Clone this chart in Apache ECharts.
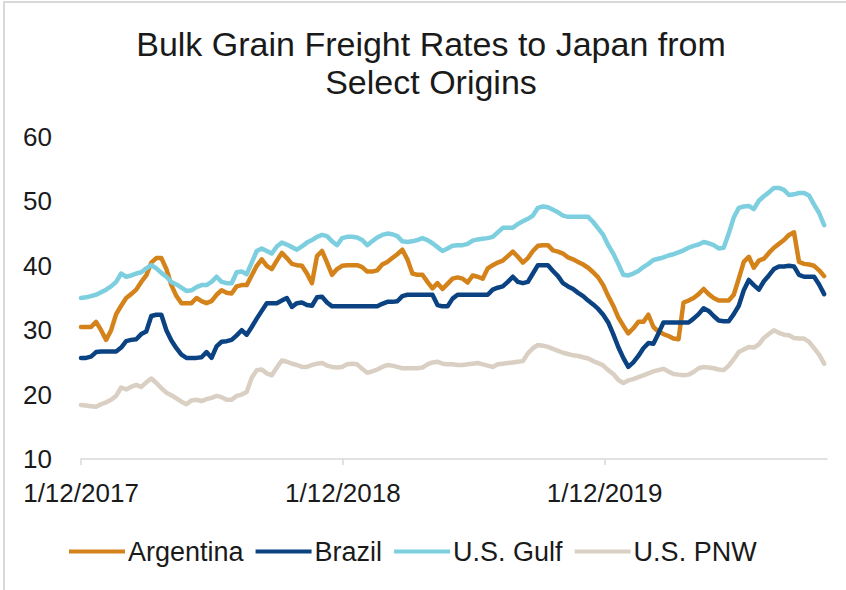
<!DOCTYPE html>
<html><head><meta charset="utf-8">
<script src="https://cdn.jsdelivr.net/npm/echarts@6/dist/echarts.min.js"></script>
<style>html,body{margin:0;padding:0;background:#fff}#c{width:846px;height:590px}</style>
</head><body><div id="c"></div>
<script>
// Weekly observations starting 1/12/2017 (x = days since 1/12/2017)
const startDate = '1/12/2017';
const tickDays = [0, 365, 730];
const tickLabels = ['1/12/2017', '1/12/2018', '1/12/2019'];
const seriesNames = ['Argentina', 'Brazil', 'U.S. Gulf', 'U.S. PNW'];

const argentina = [
30.5,30.5,30.5,31.3,30.0,28.5,30.0,32.5,33.8,35.0,
35.6,36.3,37.5,38.5,40.5,41.2,41.2,39.5,37.0,35.3,
34.2,34.2,34.2,35.0,34.5,34.2,34.5,35.5,36.2,35.8,
35.7,36.8,37.0,37.0,38.5,40.0,41.0,40.0,39.5,40.8,
42.0,41.2,40.3,40.1,40.0,38.8,37.3,41.5,42.3,40.5,
38.6,39.5,40.0,40.1,40.1,40.1,39.8,39.1,39.1,39.3,
40.2,40.6,41.2,41.8,42.5,41.0,38.8,38.6,38.6,37.5,
36.5,37.3,36.4,37.2,38.0,38.2,38.0,37.4,38.5,38.3,
38.0,39.6,40.1,40.5,40.8,41.5,42.2,41.4,40.5,41.2,
42.3,43.1,43.2,43.2,42.4,42.2,41.9,41.3,41.0,40.6,
40.2,39.7,39.0,38.2,37.0,35.3,33.8,32.0,30.7,29.5,
30.3,31.3,31.3,32.4,30.5,29.8,29.4,29.1,28.7,28.6,
34.3,34.6,35.0,35.6,36.4,35.6,35.0,34.6,34.6,34.6,
35.5,38.0,40.6,41.4,39.7,40.8,41.1,42.0,42.8,43.4,
44.0,44.8,45.2,40.6,40.3,40.2,40.0,39.3,38.4];

const brazil = [
25.7,25.7,25.9,26.6,26.7,26.7,26.7,26.7,27.3,28.3,
28.5,28.6,29.4,29.8,32.2,32.4,32.4,30.0,28.4,27.2,
26.2,25.7,25.7,25.7,25.8,26.6,25.7,27.5,28.2,28.3,
28.5,29.2,30.0,29.3,30.5,31.8,33.0,34.2,34.2,34.2,
34.6,35.0,33.6,34.2,34.3,33.9,33.8,35.1,35.2,34.3,
33.7,33.7,33.7,33.7,33.7,33.7,33.7,33.7,33.7,33.7,
34.1,34.4,34.4,34.5,35.3,35.5,35.5,35.5,35.5,35.5,
35.5,33.9,33.7,33.7,34.9,35.5,35.5,35.5,35.5,35.5,
35.5,35.5,36.3,36.6,36.8,37.5,38.3,37.5,37.3,37.5,
38.8,40.1,40.1,40.1,39.2,38.4,37.3,36.8,36.4,35.8,
35.3,34.6,34.0,33.3,32.4,31.2,29.4,27.4,25.7,24.3,
25.0,26.0,27.2,28.0,27.9,29.5,31.2,31.2,31.2,31.2,
31.2,31.2,31.8,32.5,33.4,33.0,32.2,31.5,31.4,31.4,
32.5,33.8,36.2,37.8,37.0,36.3,37.6,38.5,39.5,39.9,
39.9,40.0,39.9,38.6,38.3,38.3,38.3,37.1,35.6];

const usGulf = [
35.0,35.1,35.3,35.5,35.9,36.3,36.8,37.5,38.8,38.3,
38.5,38.8,39.0,39.6,40.1,39.6,38.9,38.3,37.5,37.1,
36.6,36.1,36.2,36.7,37.0,37.0,37.5,38.3,37.5,37.3,
37.3,39.0,39.1,38.7,40.5,42.3,42.7,42.3,41.9,43.0,
43.6,43.3,42.9,42.5,43.0,43.6,44.0,44.5,44.8,44.6,
43.8,43.2,44.3,44.5,44.5,44.4,44.0,43.2,43.8,44.4,
44.8,45.0,44.9,44.6,43.8,43.7,43.8,44.0,44.3,44.0,
43.5,42.9,42.3,42.7,43.1,43.2,43.2,43.4,43.9,44.1,
44.2,44.3,44.5,45.2,45.9,45.9,45.9,46.5,46.9,47.3,
47.8,49.0,49.2,49.1,48.7,48.3,47.8,47.6,47.6,47.6,
47.6,47.6,46.8,45.8,44.8,43.2,41.9,40.3,38.6,38.5,
38.8,39.2,39.8,40.3,40.9,41.1,41.3,41.6,41.8,42.1,
42.4,42.8,43.1,43.3,43.7,43.5,43.2,42.7,42.8,45.0,
47.5,49.0,49.2,49.3,48.8,50.1,50.8,51.4,52.1,52.1,
51.8,51.0,51.1,51.3,51.3,50.9,49.5,48.2,46.3];

const usPNW = [
18.4,18.3,18.2,18.1,18.5,18.8,19.2,19.8,21.1,20.8,
21.2,21.5,21.2,21.9,22.5,21.8,21.0,20.3,19.9,19.4,
18.9,18.5,19.1,19.2,19.0,19.3,19.5,19.8,19.6,19.2,
19.2,19.8,20.0,20.4,22.6,23.8,23.9,23.3,23.0,24.2,
25.3,25.1,24.8,24.6,24.3,24.3,24.6,24.8,24.9,24.5,
24.3,24.2,24.3,24.7,24.8,24.7,24.0,23.4,23.6,23.9,
24.3,24.6,24.5,24.3,24.1,24.1,24.1,24.1,24.2,24.7,
25.0,25.1,24.8,24.7,24.7,24.6,24.6,24.7,24.8,24.9,
24.7,24.5,24.3,24.7,24.8,24.9,25.0,25.1,25.2,26.4,
27.2,27.7,27.6,27.4,27.1,26.8,26.5,26.3,26.1,26.0,
25.8,25.6,25.2,24.9,24.5,23.8,23.2,22.3,21.8,22.2,
22.4,22.7,23.0,23.3,23.6,23.8,24.0,23.6,23.2,23.1,
23.0,23.1,23.5,24.1,24.3,24.2,24.1,23.9,23.8,24.5,
25.5,26.6,27.0,27.4,27.3,27.8,28.8,29.4,30.0,29.6,
29.3,29.2,28.8,28.7,28.7,28.2,27.2,26.2,24.8];

const colors = ['#D4821A', '#0B4382', '#7DCFE0', '#D9CFC2'];
const allValues = [argentina, brazil, usGulf, usPNW];
// week offsets (days since start) for each observation
const weekDays = argentina.map((_, i) => i * 7);

const FONT = '"Liberation Sans", Arial, sans-serif';
const chart = echarts.init(document.getElementById('c'), null, {renderer: 'svg'});
chart.setOption({
  animation: false,
  backgroundColor: '#fff',
  title: {
    text: 'Bulk Grain Freight Rates to Japan from\nSelect Origins',
    left: 431, top: 25, textAlign: 'center', padding: 0,
    textStyle: {fontFamily: FONT, fontSize: 34, fontWeight: 'normal', color: '#1a1a1a', lineHeight: 38}
  },
  graphic: [{
    type: 'rect', silent: true, z: -1,
    shape: {x: 4, y: 2, width: 900, height: 700},
    style: {fill: 'none', stroke: '#d9d9d9', lineWidth: 2}
  }],
  legend: {
    left: 64, top: 533, itemWidth: 56, itemHeight: 4, itemGap: 12,
    icon: 'rect',
    textStyle: {fontFamily: FONT, fontSize: 27, color: '#1a1a1a', padding: [0, 0, 0, -2]},
    data: seriesNames
  },
  grid: {left: 81, right: 19, top: 137, bottom: 131, containLabel: false},
  xAxis: {
    type: 'value', min: 0, max: 1040,
    splitLine: {show: false},
    axisLine: {show: true, lineStyle: {color: '#d9d9d9', width: 1.5}},
    axisTick: {show: true, customValues: tickDays, length: 6, lineStyle: {color: '#d9d9d9', width: 1.5}},
    axisLabel: {
      customValues: tickDays, margin: 21,
      fontFamily: FONT, fontSize: 26, color: '#1a1a1a',
      formatter: v => tickLabels[tickDays.indexOf(v)] || ''
    }
  },
  yAxis: {
    type: 'value', min: 10, max: 60, interval: 10,
    splitLine: {show: false},
    axisLine: {show: false}, axisTick: {show: false},
    axisLabel: {margin: 29, fontFamily: FONT, fontSize: 26, color: '#1a1a1a'}
  },
  series: seriesNames.map((name, k) => ({
    name, type: 'line', showSymbol: false, symbol: 'none',
    color: colors[k],
    lineStyle: {width: 4.5, color: colors[k], join: 'round', cap: 'round'},
    data: allValues[k].map((v, i) => [weekDays[i], v])
  }))
});
</script></body></html>
